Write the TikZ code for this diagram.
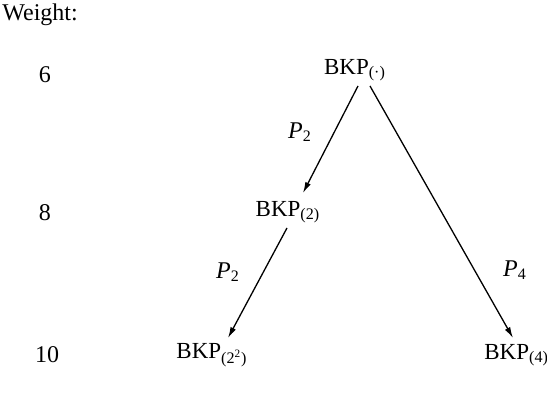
\documentclass[tikz,border=0pt]{standalone}
\usepackage{fontspec}
\setmainfont{Liberation Serif}
\usepackage{tikz}
\usetikzlibrary{arrows.meta,calc,positioning}

\begin{document}
\begin{tikzpicture}[
    x=0.5pt, y=-0.5pt,
    bkp/.style={inner sep=0pt, font=\fontsize{11.5}{13}\selectfont},
    weight/.style={inner sep=0pt, font=\fontsize{12}{14}\selectfont},
    plabel/.style={inner sep=0pt, font=\fontsize{12}{14}\selectfont},
    arrow/.style={-{Latex[length=5.5pt,width=3pt]}, line width=0.65pt}
]
\useasboundingbox (0,0) rectangle (547,394);

% Weights
\node[weight, anchor=west] (wtitle) at (2,15) {Weight:};
\node[weight] (w6) at (45,75) {6};
\node[weight] (w8) at (45,213) {8};
\node[weight] (w10) at (47,355) {10};

% Nodes
\node[bkp] (root) at (355,70) {BKP\textsubscript{(·)}};
\node[bkp] (bkp2) at (288,212) {BKP\textsubscript{(2)}};
\node[bkp] (bkpsq) at (212,355) {BKP\textsubscript{(2\textsuperscript{2})}};
\node[bkp, anchor=west] (bkp4) at (484,355) {BKP\textsubscript{(4)}};

% Arrows
\draw[arrow] ($(root)+(3,16)$) -- ($(bkp2)+(15,-19)$);
\draw[arrow] ($(root)+(15,16)$) -- ($(bkp4.west)+(29,-17)$);
\draw[arrow] ($(bkp2)+(-1,16)$) -- ($(bkpsq)+(16,-17)$);

% Labels
\node[plabel] (p2a) at (300,132) {\textit{P}\textsubscript{2}};
\node[plabel] (p2b) at (228,272) {\textit{P}\textsubscript{2}};
\node[plabel] (p4) at (515,270) {\textit{P}\textsubscript{4}};

\end{tikzpicture}
\end{document}
